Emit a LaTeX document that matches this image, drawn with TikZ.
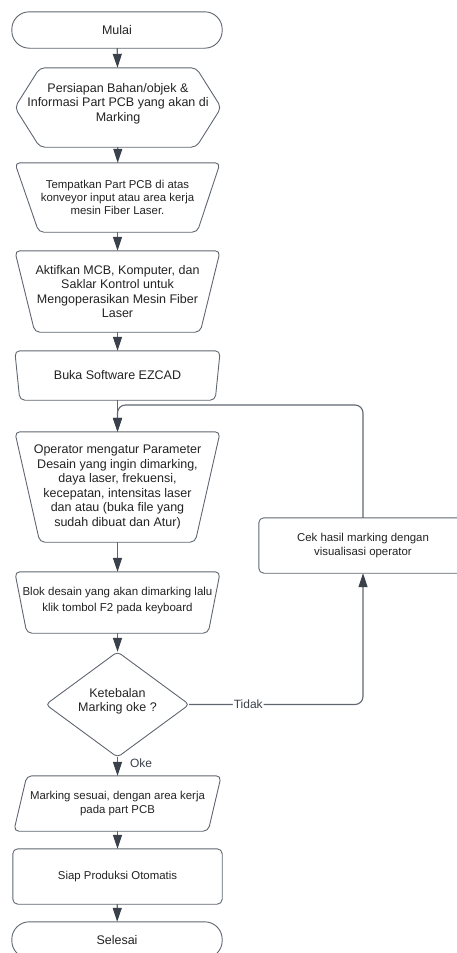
\documentclass[tikz,border=0pt]{standalone}
\usepackage{fontspec}
\setmainfont{Liberation Sans}
\usetikzlibrary{arrows.meta}
\definecolor{edgec}{HTML}{5F6670}
\definecolor{headc}{HTML}{3A414A}
\definecolor{txtc}{HTML}{222222}
\begin{document}
\begin{tikzpicture}[x=1pt,y=-1pt,
  box/.style={draw=none, inner sep=0pt, align=center, text=txtc},
  fA/.style={font=\fontsize{12.5}{14.5}\selectfont},
  fB/.style={font=\fontsize{11.4}{13.3}\selectfont},
  outline/.style={draw=edgec, line width=0.9pt, rounded corners=5pt},
  flow/.style={draw=edgec, line width=1.1pt, -{Triangle[length=14pt,width=9pt,color=headc]}},
  lbl/.style={text=headc, font=\fontsize{12}{14}\selectfont, inner sep=1pt}]
\useasboundingbox (0,0) rectangle (457,953);
\begin{scope}
\clip (0,0) rectangle (457,953);
% nodes
\node[box,fA,minimum width=210pt,minimum height=36pt] (mulai) at (117,30) {Mulai};
\node[box,fA,minimum width=206pt,minimum height=79pt] (hex) at (118,107.5) {};
\node[box,fA] at (118,103.5) {Persiapan Bahan/objek \&\\Informasi Part PCB yang akan di\\Marking};
\node[box,fB,minimum width=205pt,minimum height=69pt] (tempat) at (117.5,197.5) {Tempatkan Part PCB di atas\\konveyor input atau area kerja\\mesin Fiber Laser.};
\node[box,fA,minimum width=205pt,minimum height=81pt] (aktif) at (117.5,291.5) {Aktifkan MCB, Komputer, dan\\Saklar Kontrol untuk\\Mengoperasikan Mesin Fiber\\Laser};
\node[box,fA,minimum width=205pt,minimum height=49pt] (buka) at (117.5,375.5) {Buka Software EZCAD};
\node[box,fA,minimum width=205pt,minimum height=110pt] (oper) at (117.5,487) {Operator mengatur Parameter\\Desain yang ingin dimarking,\\daya laser, frekuensi,\\kecepatan, intensitas laser\\dan atau (buka file yang\\sudah dibuat dan Atur)};
\node[box,font=\fontsize{11.5}{16.7}\selectfont,minimum width=205pt,minimum height=61pt] (blok) at (117.5,602.5) {};
\node[box,font=\fontsize{11.5}{16.7}\selectfont] at (117.5,600.5) {Blok desain yang akan dimarking lalu\\klik tombol F2 pada keyboard};
\node[box,fA,minimum width=143pt,minimum height=105pt] (dia) at (117.5,704.5) {};
\node[box,fA] at (117.5,701.5) {Ketebalan\\Marking oke ?};
\node[box,fB,minimum width=207pt,minimum height=55pt] (mark) at (117.5,803.5) {Marking sesuai, dengan area kerja\\pada part PCB};
\node[box,fB,minimum width=209pt,minimum height=55pt] (siap) at (117.5,876.5) {Siap Produksi Otomatis};
\node[box,fA,minimum width=210pt,minimum height=36pt] (selesai) at (117,940) {Selesai};
\node[box,fB,minimum width=208pt,minimum height=55pt] (cek) at (363,545.5) {Cek hasil marking dengan\\visualisasi operator};
% outlines
\draw[outline,rounded corners=17.5pt] (mulai.north west) rectangle (mulai.south east);
\draw[outline] (hex.west) -- ([xshift=25pt]hex.north west) -- ([xshift=-25pt]hex.north east) -- (hex.east) -- ([xshift=-25pt]hex.south east) -- ([xshift=25pt]hex.south west) -- cycle;
\draw[outline] (tempat.north west) -- (tempat.north east) -- ([xshift=-23pt]tempat.south east) -- ([xshift=24pt]tempat.south west) -- cycle;
\draw[outline] (aktif.north west) -- (aktif.north east) -- ([xshift=-20pt]aktif.south east) -- ([xshift=20pt]aktif.south west) -- cycle;
\draw[outline] (buka.north west) -- (buka.north east) -- ([xshift=-5pt]buka.south east) -- ([xshift=5pt]buka.south west) -- cycle;
\draw[outline] (oper.north west) -- (oper.north east) -- ([xshift=-25pt]oper.south east) -- ([xshift=25pt]oper.south west) -- cycle;
\draw[outline] (blok.north west) -- (blok.north east) -- ([xshift=-12pt]blok.south east) -- ([xshift=12pt]blok.south west) -- cycle;
\draw[outline,rounded corners=4pt] (dia.north) -- (dia.east) -- (dia.south) -- (dia.west) -- cycle;
\draw[outline] ([xshift=13pt]mark.north west) -- (mark.north east) -- ([xshift=-13pt]mark.south east) -- (mark.south west) -- cycle;
\draw[outline] (siap.north west) rectangle (siap.south east);
\draw[outline,rounded corners=17.5pt] (selesai.north west) rectangle (selesai.south east);
\draw[outline] (cek.north west) rectangle (cek.south east);
% connectors
\draw[flow] (mulai) -- (hex);
\draw[flow] (hex) -- (tempat);
\draw[flow] (tempat) -- (aktif);
\draw[flow] (aktif) -- (buka);
\draw[flow] (buka) -- (oper);
\draw[flow] (oper) -- (blok);
\draw[flow] (blok) -- (dia);
\draw[flow] (dia) -- node[lbl,right,xshift=11pt,pos=0.3]{Oke} (mark);
\draw[flow] (mark) -- (siap);
\draw[flow] (siap) -- (selesai);
\coordinate (loopc) at (117.5,405);
\draw[flow,rounded corners=8pt] (cek.north) |- (loopc) -- (oper.north);
\draw[flow,rounded corners=8pt] (dia.east) -| node[lbl,fill=white,pos=0.17]{Tidak} (cek.south);
\end{scope}
\end{tikzpicture}
\end{document}
